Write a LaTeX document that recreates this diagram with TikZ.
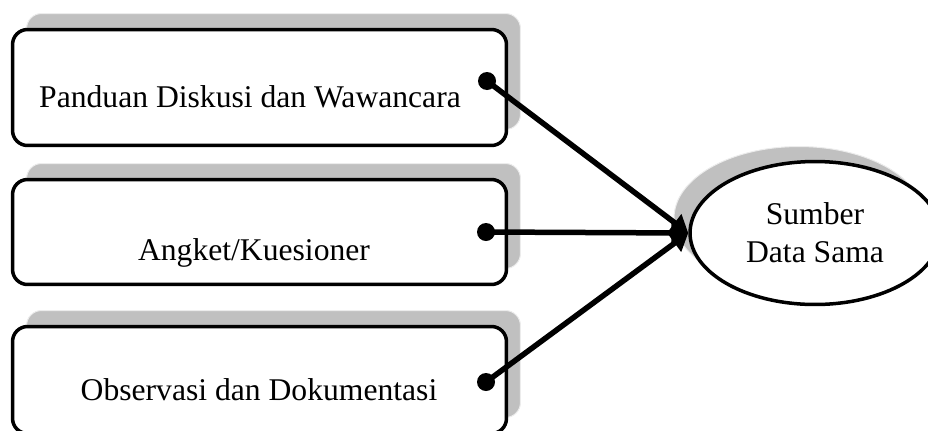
\documentclass[tikz,border=0pt]{standalone}
\usepackage{fontspec}
\setmainfont{Liberation Serif}
\usetikzlibrary{shapes.geometric,shadows,arrows.meta}
\definecolor{bayang}{HTML}{C0C0C0}
\tikzset{
  teks/.style = {inner sep=0pt, font=\fontsize{18}{21.6}\selectfont},
  bayang_k/.style = {drop shadow={shadow xshift=0.28cm, shadow yshift=0.32cm, fill=bayang, draw=white!85!gray, line width=0.02cm, opacity=1}},
  bayang_e/.style = {drop shadow={shadow xshift=-0.32cm, shadow yshift=0.3cm, fill=bayang, draw=white!85!gray, line width=0.02cm, opacity=1}},
  kotak/.style = {draw=black, fill=white, line width=0.07cm, rounded corners=0.3cm, minimum width=9.88cm, inner sep=0pt, bayang_k},
  elips/.style = {teks, ellipse, align=center, draw=black, fill=white, line width=0.07cm, minimum width=5cm, minimum height=2.86cm, bayang_e},
  titik/.style = {circle, fill=black, inner sep=0pt, minimum size=0.36cm},
  panah/.style = {line width=0.11cm, -{Triangle[length=0.34cm, width=0.42cm]}}
}

\begin{document}
\begin{tikzpicture}[x=0.02cm, y=-0.02cm]
\useasboundingbox (0,0) rectangle (928,430);

% kotak instrumen
\node [kotak, minimum height=2.32cm] (panduan) at (259.5,87.5) {};
\node [kotak, minimum height=2.1cm]  (angket)  at (259.5,232) {};
\node [kotak, minimum height=2.14cm] (observasi) at (259.5,380) {};

\node [teks, anchor=base] (t_panduan) at (250,107) {Panduan Diskusi dan Wawancara};
\node [teks, anchor=base] (t_angket) at (254,260) {Angket/Kuesioner};
\node [teks, anchor=base] (t_observasi) at (259,400) {Observasi dan Dokumentasi};

% sumber data
\node [elips] (sumber) at (815,233) {Sumber\\Data Sama};

% titik dan panah
\node [titik] (d1) at (487,81) {};
\node [titik] (d2) at (486,232) {};
\node [titik] (d3) at (486,382) {};

\draw [panah] (d1.center) -- (sumber.west);
\draw [panah] (d2.center) -- (sumber.west);
\draw [panah] (d3.center) -- (sumber.west);
\end{tikzpicture}
\end{document}
